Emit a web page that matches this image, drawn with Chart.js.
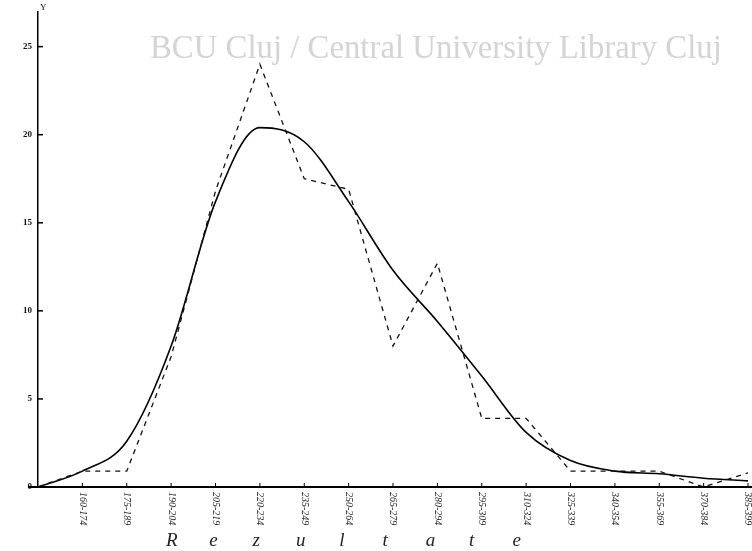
<!DOCTYPE html>
<html>
<head>
<meta charset="utf-8">
<script src="https://cdn.jsdelivr.net/npm/chart.js"></script>
<style>
  html, body { margin: 0; padding: 0; background: #fff; }
  #wrap { width: 752px; height: 551px; position: relative; }
</style>
</head>
<body>
<div id="wrap"><canvas id="chart" width="752" height="551"></canvas></div>
<script>
// Clase (intervale) pe axa X
const categories = ['', '160-174', '175-189', '190-204', '205-219', '220-234', '235-249', '250-264',
  '265-279', '280-294', '295-309', '310-324', '325-339', '340-354', '355-369', '370-384', '385-399'];
// Frecvente observate (linia punctata)
const observed = [0, 0.9, 0.9, 7.4, 16.8, 24.0, 17.5, 16.9, 8.0, 12.7, 3.9, 3.9, 0.9, 0.9, 0.9, 0, 0.8];
// Curba teoretica (linia continua)
const fitted = [0, 0.9, 2.6, 8.0, 16.2, 20.4, 19.6, 16.2, 12.3, 9.4, 6.3, 3.1, 1.5, 0.9, 0.75, 0.5, 0.35];
const yTicks = [0, 5, 10, 15, 20, 25];
const watermark = 'BCU Cluj / Central University Library Cluj';
const axisTitle = ['R', 'e', 'z', 'u', 'l', 't', 'a', 't', 'e'];

const textPlugin = {
  id: 'textPlugin',
  afterDraw(chart) {
    const ctx = chart.ctx;
    const area = chart.chartArea;
    const y = chart.scales.y, x = chart.scales.x;
    ctx.save();
    // filigran
    let size = 24;
    ctx.font = size + 'px "Liberation Serif"';
    size = size * 572 / ctx.measureText(watermark).width;
    ctx.font = size + 'px "Liberation Serif"';
    ctx.fillStyle = '#d4d4d4';
    ctx.textBaseline = 'alphabetic';
    ctx.fillText(watermark, 150, 58);
    // eticheta Y
    ctx.fillStyle = '#111';
    ctx.font = '9px "Liberation Serif"';
    ctx.fillText('Y', area.left + 2, area.top - 1);
    // titlul axei X
    ctx.font = 'italic 19px "Liberation Serif"';
    ctx.fillStyle = '#222';
    axisTitle.forEach((ch, i) => ctx.fillText(ch, 166 + i * 43.3, 546));
    // etichetele axei X, citite de sus in jos
    ctx.font = 'italic 10px "Liberation Serif"';
    ctx.fillStyle = '#222';
    ctx.textAlign = 'left';
    ctx.textBaseline = 'middle';
    categories.forEach((c, i) => {
      if (!c) return;
      const px = x.getPixelForValue(i);
      ctx.save();
      ctx.translate(px, area.bottom + 5);
      ctx.rotate(Math.PI / 2);
      ctx.fillText(c, 0, 0);
      ctx.restore();
    });
    // semne pe axe, spre interior
    ctx.strokeStyle = '#000';
    ctx.lineWidth = 1.5;
    yTicks.slice(1).forEach(v => {
      const py = y.getPixelForValue(v);
      ctx.beginPath(); ctx.moveTo(area.left, py); ctx.lineTo(area.left + 5, py); ctx.stroke();
    });
    ctx.lineWidth = 1;
    categories.forEach((c, i) => {
      if (!i) return;
      const px = x.getPixelForValue(i);
      ctx.beginPath(); ctx.moveTo(px, area.bottom); ctx.lineTo(px, area.bottom - 4); ctx.stroke();
    });
    // axa X prelungita spre stanga
    ctx.lineWidth = 2;
    ctx.beginPath(); ctx.moveTo(28, area.bottom); ctx.lineTo(752, area.bottom); ctx.stroke();
    ctx.restore();
  }
};

new Chart(document.getElementById('chart'), {
  type: 'line',
  data: {
    labels: categories,
    datasets: [
      {
        label: 'Observat',
        data: observed,
        borderColor: '#111',
        borderWidth: 1.3,
        borderDash: [5, 5],
        pointRadius: 0,
        tension: 0,
        fill: false
      },
      {
        label: 'Teoretic',
        data: fitted,
        borderColor: '#000',
        borderWidth: 1.6,
        pointRadius: 0,
        cubicInterpolationMode: 'monotone',
        fill: false
      }
    ]
  },
  options: {
    responsive: false,
    animation: false,
    layout: { padding: { top: 10, right: 4, left: 0, bottom: 0 } },
    plugins: { legend: { display: false }, tooltip: { enabled: false } },
    scales: {
      x: {
        offset: false,
        grid: { display: false, drawTicks: false },
        border: { display: true, color: '#000', width: 2 },
        ticks: { display: false, autoSkip: false },
        afterFit(scale) { scale.height = 64; }
      },
      y: {
        min: 0, max: 27,
        afterBuildTicks(scale) { scale.ticks = yTicks.map(v => ({ value: v })); },
        grid: { display: false, drawTicks: false },
        border: { display: true, color: '#000', width: 1.5 },
        ticks: {
          color: '#111',
          font: { family: 'Liberation Serif', size: 9, weight: 'bold' },
          padding: 6
        },
        afterFit(scale) { scale.width = 38; }
      }
    }
  },
  plugins: [textPlugin]
});
</script>
</body>
</html>
